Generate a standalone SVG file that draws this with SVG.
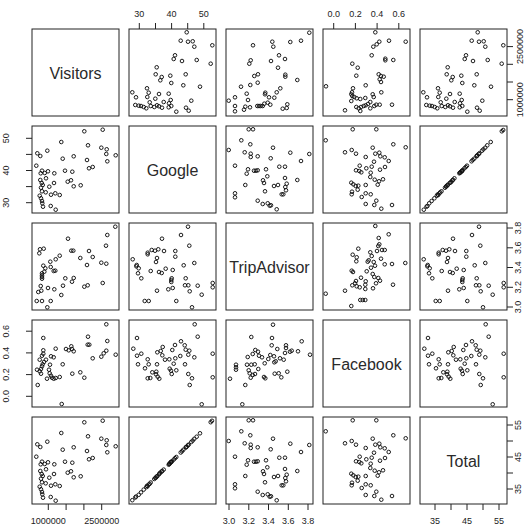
<svg xmlns="http://www.w3.org/2000/svg" xmlns:xlink="http://www.w3.org/1999/xlink" width="526" height="526" viewBox="0 0 526 526">
<style>
.bg{fill:#fff}
.fr{fill:none;stroke:#222;stroke-width:1}
.p circle{fill:none;stroke:#111;stroke-width:0.95}
.tk{fill:none;stroke:#222;stroke-width:1}
.lab{font-family:"Liberation Sans",Arial,sans-serif;font-size:16px;fill:#2a2a2a;text-anchor:middle}
.ax{font-family:"Liberation Sans",Arial,sans-serif;font-size:9px;fill:#222;text-anchor:middle}
</style>
<defs>
<g id="gVG" class="p">
<circle cx="57.7" cy="3.3" r="1.8"/><circle cx="51.7" cy="11.7" r="1.8"/><circle cx="59" cy="12.7" r="1.8"/><circle cx="63.7" cy="12.3" r="1.8"/><circle cx="65.3" cy="17.7" r="1.8"/><circle cx="83.3" cy="16.3" r="1.8"/><circle cx="46" cy="26.3" r="1.8"/><circle cx="44.7" cy="30" r="1.8"/><circle cx="53" cy="32" r="1.8"/><circle cx="67.7" cy="31" r="1.8"/><circle cx="81.7" cy="34.7" r="1.8"/><circle cx="27.7" cy="38.3" r="1.8"/><circle cx="26.7" cy="45.3" r="1.8"/><circle cx="32.7" cy="48" r="1.8"/><circle cx="31.3" cy="51.3" r="1.8"/><circle cx="41.3" cy="46.7" r="1.8"/><circle cx="42.3" cy="54" r="1.8"/><circle cx="56.7" cy="45.3" r="1.8"/><circle cx="54.3" cy="56.3" r="1.8"/><circle cx="71" cy="57.7" r="1.8"/><circle cx="3.3" cy="63.3" r="1.8"/><circle cx="7" cy="68.3" r="1.8"/><circle cx="18" cy="59.3" r="1.8"/><circle cx="19.7" cy="63.7" r="1.8"/><circle cx="18.3" cy="68" r="1.8"/><circle cx="30" cy="65" r="1.8"/><circle cx="26.3" cy="69.7" r="1.8"/><circle cx="39.7" cy="64.7" r="1.8"/><circle cx="41.7" cy="71" r="1.8"/><circle cx="40" cy="74.3" r="1.8"/><circle cx="6.3" cy="76" r="1.8"/><circle cx="9.7" cy="76.7" r="1.8"/><circle cx="12" cy="77" r="1.8"/><circle cx="14.7" cy="78" r="1.8"/><circle cx="17.3" cy="79.3" r="1.8"/><circle cx="21.7" cy="77" r="1.8"/><circle cx="25.3" cy="78" r="1.8"/><circle cx="28" cy="76.3" r="1.8"/><circle cx="30" cy="77.3" r="1.8"/><circle cx="34.7" cy="73" r="1.8"/><circle cx="33" cy="78.7" r="1.8"/><circle cx="42.3" cy="77" r="1.8"/><circle cx="39.7" cy="78.3" r="1.8"/><circle cx="47.3" cy="82.7" r="1.8"/><circle cx="57" cy="78.7" r="1.8"/><circle cx="59.7" cy="81.7" r="1.8"/><circle cx="62.3" cy="71.7" r="1.8"/><circle cx="20.7" cy="73.3" r="1.8"/>
</g>
<g id="gVT" class="p">
<circle cx="83.3" cy="3.7" r="1.8"/><circle cx="75" cy="11.7" r="1.8"/><circle cx="64.3" cy="13" r="1.8"/><circle cx="46.3" cy="12.7" r="1.8"/><circle cx="47.3" cy="17.7" r="1.8"/><circle cx="27" cy="16.3" r="1.8"/><circle cx="24.7" cy="31.3" r="1.8"/><circle cx="23.3" cy="34.7" r="1.8"/><circle cx="45" cy="32" r="1.8"/><circle cx="53" cy="26.3" r="1.8"/><circle cx="59" cy="30" r="1.8"/><circle cx="52" cy="38.7" r="1.8"/><circle cx="59.3" cy="45.7" r="1.8"/><circle cx="59.3" cy="47.7" r="1.8"/><circle cx="71.3" cy="51" r="1.8"/><circle cx="32" cy="45.3" r="1.8"/><circle cx="28.3" cy="47" r="1.8"/><circle cx="31.7" cy="53.7" r="1.8"/><circle cx="24.3" cy="56" r="1.8"/><circle cx="15" cy="57.7" r="1.8"/><circle cx="39.3" cy="63.7" r="1.8"/><circle cx="39" cy="65.3" r="1.8"/><circle cx="50.7" cy="63.3" r="1.8"/><circle cx="54.3" cy="59.3" r="1.8"/><circle cx="48.3" cy="68.7" r="1.8"/><circle cx="43" cy="68.3" r="1.8"/><circle cx="2.7" cy="71.7" r="1.8"/><circle cx="9" cy="68.3" r="1.8"/><circle cx="20.7" cy="64.7" r="1.8"/><circle cx="22" cy="71" r="1.8"/><circle cx="19.3" cy="77.7" r="1.8"/><circle cx="18" cy="80.7" r="1.8"/><circle cx="9" cy="77" r="1.8"/><circle cx="9" cy="82.3" r="1.8"/><circle cx="24" cy="78.3" r="1.8"/><circle cx="31.3" cy="77" r="1.8"/><circle cx="33" cy="77" r="1.8"/><circle cx="34.7" cy="77" r="1.8"/><circle cx="36.7" cy="77" r="1.8"/><circle cx="38.3" cy="74.7" r="1.8"/><circle cx="41.7" cy="73.7" r="1.8"/><circle cx="44.3" cy="75.7" r="1.8"/><circle cx="56.7" cy="79.7" r="1.8"/><circle cx="60.7" cy="79" r="1.8"/><circle cx="61.3" cy="75.3" r="1.8"/>
</g>
<g id="gVF" class="p">
<circle cx="52.3" cy="3.3" r="1.8"/><circle cx="56.3" cy="12.7" r="1.8"/><circle cx="53.7" cy="15.3" r="1.8"/><circle cx="50.3" cy="17.7" r="1.8"/><circle cx="66" cy="11.7" r="1.8"/><circle cx="82.7" cy="12.7" r="1.8"/><circle cx="48.7" cy="26.3" r="1.8"/><circle cx="62.3" cy="29.7" r="1.8"/><circle cx="62.3" cy="31.3" r="1.8"/><circle cx="70.3" cy="31" r="1.8"/><circle cx="29.3" cy="34.7" r="1.8"/><circle cx="34.7" cy="38.7" r="1.8"/><circle cx="33.3" cy="46.7" r="1.8"/><circle cx="55.7" cy="45.3" r="1.8"/><circle cx="58" cy="47" r="1.8"/><circle cx="60.7" cy="47.7" r="1.8"/><circle cx="56.7" cy="50.3" r="1.8"/><circle cx="58" cy="53" r="1.8"/><circle cx="42.7" cy="56.3" r="1.8"/><circle cx="3" cy="57.3" r="1.8"/><circle cx="30" cy="59.3" r="1.8"/><circle cx="29" cy="63.3" r="1.8"/><circle cx="28.3" cy="65.3" r="1.8"/><circle cx="29.3" cy="67" r="1.8"/><circle cx="31.3" cy="68" r="1.8"/><circle cx="37.3" cy="70" r="1.8"/><circle cx="42.3" cy="69" r="1.8"/><circle cx="49.7" cy="65.3" r="1.8"/><circle cx="50.7" cy="68" r="1.8"/><circle cx="58.3" cy="63.3" r="1.8"/><circle cx="28.3" cy="72" r="1.8"/><circle cx="33.7" cy="69.3" r="1.8"/><circle cx="33.3" cy="78" r="1.8"/><circle cx="35.7" cy="79.3" r="1.8"/><circle cx="38" cy="78" r="1.8"/><circle cx="40.7" cy="77" r="1.8"/><circle cx="42.7" cy="76.3" r="1.8"/><circle cx="45" cy="75" r="1.8"/><circle cx="47.3" cy="73" r="1.8"/><circle cx="51.3" cy="77" r="1.8"/><circle cx="53.3" cy="75.7" r="1.8"/><circle cx="56.7" cy="75.7" r="1.8"/><circle cx="69" cy="75.7" r="1.8"/><circle cx="22" cy="81.3" r="1.8"/><circle cx="37.3" cy="82" r="1.8"/><circle cx="47.3" cy="79.3" r="1.8"/>
</g>
<g id="gGT" class="p">
<circle cx="22.7" cy="3.3" r="1.8"/><circle cx="27" cy="3.3" r="1.8"/><circle cx="15.3" cy="14.3" r="1.8"/><circle cx="24.3" cy="18.3" r="1.8"/><circle cx="2.7" cy="24" r="1.8"/><circle cx="47" cy="21.7" r="1.8"/><circle cx="18.7" cy="26.3" r="1.8"/><circle cx="24.7" cy="27.7" r="1.8"/><circle cx="24.7" cy="31" r="1.8"/><circle cx="31.7" cy="30.3" r="1.8"/><circle cx="44.7" cy="32.3" r="1.8"/><circle cx="64.3" cy="26.7" r="1.8"/><circle cx="83.3" cy="28" r="1.8"/><circle cx="75" cy="35" r="1.8"/><circle cx="9" cy="39.7" r="1.8"/><circle cx="22" cy="43.3" r="1.8"/><circle cx="20.7" cy="47.7" r="1.8"/><circle cx="28" cy="44.7" r="1.8"/><circle cx="30" cy="44.7" r="1.8"/><circle cx="31.7" cy="44.3" r="1.8"/><circle cx="40" cy="43.3" r="1.8"/><circle cx="53.3" cy="40.7" r="1.8"/><circle cx="59" cy="40.7" r="1.8"/><circle cx="41.3" cy="50.3" r="1.8"/><circle cx="37" cy="54.3" r="1.8"/><circle cx="38" cy="57" r="1.8"/><circle cx="48" cy="60" r="1.8"/><circle cx="52" cy="59" r="1.8"/><circle cx="59" cy="52" r="1.8"/><circle cx="60.7" cy="57.7" r="1.8"/><circle cx="59.3" cy="61" r="1.8"/><circle cx="60" cy="64.3" r="1.8"/><circle cx="71.3" cy="54" r="1.8"/><circle cx="19.3" cy="59" r="1.8"/><circle cx="39" cy="65.3" r="1.8"/><circle cx="9" cy="67.3" r="1.8"/><circle cx="9" cy="71.3" r="1.8"/><circle cx="55.7" cy="68.3" r="1.8"/><circle cx="57.3" cy="68.3" r="1.8"/><circle cx="31.7" cy="74.7" r="1.8"/><circle cx="36.7" cy="78" r="1.8"/><circle cx="41.7" cy="77.3" r="1.8"/><circle cx="43.7" cy="79.7" r="1.8"/><circle cx="45" cy="79.3" r="1.8"/><circle cx="50.7" cy="83.3" r="1.8"/>
</g>
<g id="gGF" class="p">
<circle cx="29.7" cy="3.3" r="1.8"/><circle cx="53.3" cy="3.3" r="1.8"/><circle cx="2.7" cy="14.3" r="1.8"/><circle cx="70.3" cy="18.3" r="1.8"/><circle cx="82.7" cy="21.3" r="1.8"/><circle cx="22" cy="26.3" r="1.8"/><circle cx="28.7" cy="24" r="1.8"/><circle cx="33" cy="27.7" r="1.8"/><circle cx="42.7" cy="31" r="1.8"/><circle cx="49.7" cy="21.7" r="1.8"/><circle cx="52.3" cy="27.7" r="1.8"/><circle cx="56.3" cy="26.7" r="1.8"/><circle cx="57.3" cy="30.3" r="1.8"/><circle cx="61.7" cy="31.3" r="1.8"/><circle cx="65.7" cy="35" r="1.8"/><circle cx="51" cy="35.7" r="1.8"/><circle cx="36.7" cy="39.7" r="1.8"/><circle cx="33" cy="44.3" r="1.8"/><circle cx="36.3" cy="45" r="1.8"/><circle cx="38.3" cy="46.3" r="1.8"/><circle cx="43.3" cy="42.3" r="1.8"/><circle cx="48.7" cy="40.7" r="1.8"/><circle cx="47.7" cy="46.7" r="1.8"/><circle cx="47.3" cy="51" r="1.8"/><circle cx="57" cy="43.7" r="1.8"/><circle cx="62" cy="41" r="1.8"/><circle cx="51.7" cy="53.7" r="1.8"/><circle cx="60" cy="53.3" r="1.8"/><circle cx="56" cy="55.3" r="1.8"/><circle cx="54.7" cy="58.7" r="1.8"/><circle cx="28.3" cy="56.7" r="1.8"/><circle cx="30.3" cy="58.3" r="1.8"/><circle cx="32.7" cy="60" r="1.8"/><circle cx="35.3" cy="59.7" r="1.8"/><circle cx="34.7" cy="63.7" r="1.8"/><circle cx="42.7" cy="59" r="1.8"/><circle cx="29" cy="65.7" r="1.8"/><circle cx="28.7" cy="68.3" r="1.8"/><circle cx="38.7" cy="71" r="1.8"/><circle cx="42.7" cy="67.3" r="1.8"/><circle cx="47.7" cy="68.3" r="1.8"/><circle cx="53.3" cy="74.7" r="1.8"/><circle cx="51.3" cy="79" r="1.8"/><circle cx="42.7" cy="78" r="1.8"/><circle cx="58.3" cy="82.7" r="1.8"/><circle cx="69" cy="79" r="1.8"/>
</g>
<g id="gTF" class="p">
<circle cx="52.3" cy="3" r="1.8"/><circle cx="55.7" cy="15" r="1.8"/><circle cx="65.7" cy="11.3" r="1.8"/><circle cx="55.3" cy="23" r="1.8"/><circle cx="56.3" cy="21.3" r="1.8"/><circle cx="59" cy="27" r="1.8"/><circle cx="61.7" cy="27" r="1.8"/><circle cx="54" cy="28" r="1.8"/><circle cx="35.3" cy="25.7" r="1.8"/><circle cx="47.3" cy="29.3" r="1.8"/><circle cx="48.7" cy="33" r="1.8"/><circle cx="58" cy="35.7" r="1.8"/><circle cx="29.7" cy="31.7" r="1.8"/><circle cx="33.7" cy="34.3" r="1.8"/><circle cx="33.3" cy="38.3" r="1.8"/><circle cx="61.7" cy="41.3" r="1.8"/><circle cx="69" cy="41" r="1.8"/><circle cx="82.3" cy="40" r="1.8"/><circle cx="50.7" cy="39" r="1.8"/><circle cx="52" cy="42.7" r="1.8"/><circle cx="45.7" cy="37.3" r="1.8"/><circle cx="44.7" cy="38.7" r="1.8"/><circle cx="48" cy="44.7" r="1.8"/><circle cx="28.7" cy="47.7" r="1.8"/><circle cx="30" cy="49" r="1.8"/><circle cx="43.7" cy="48.3" r="1.8"/><circle cx="49.7" cy="51" r="1.8"/><circle cx="51.3" cy="54" r="1.8"/><circle cx="55.3" cy="55" r="1.8"/><circle cx="57" cy="57.7" r="1.8"/><circle cx="38" cy="54.7" r="1.8"/><circle cx="33" cy="58" r="1.8"/><circle cx="32" cy="60.3" r="1.8"/><circle cx="29.3" cy="62.3" r="1.8"/><circle cx="33.7" cy="63.3" r="1.8"/><circle cx="36.7" cy="64.3" r="1.8"/><circle cx="42.3" cy="61.7" r="1.8"/><circle cx="42.3" cy="66" r="1.8"/><circle cx="50" cy="65.3" r="1.8"/><circle cx="53" cy="60.3" r="1.8"/><circle cx="70" cy="61.7" r="1.8"/><circle cx="22" cy="67.7" r="1.8"/><circle cx="2.7" cy="70.7" r="1.8"/><circle cx="37.3" cy="77" r="1.8"/><circle cx="39.7" cy="77" r="1.8"/><circle cx="42.3" cy="77" r="1.8"/><circle cx="28.3" cy="83" r="1.8"/><circle cx="42.7" cy="58.3" r="1.8"/>
</g>
<g id="gGTot" class="p">
<circle cx="3.3" cy="83.2" r="1.8"/><circle cx="6.3" cy="80.5" r="1.8"/><circle cx="7" cy="79.6" r="1.8"/><circle cx="9.7" cy="77.8" r="1.8"/><circle cx="12" cy="75.4" r="1.8"/><circle cx="14.7" cy="72.6" r="1.8"/><circle cx="17.3" cy="70.2" r="1.8"/><circle cx="18" cy="68.8" r="1.8"/><circle cx="18.6" cy="69.3" r="1.8"/><circle cx="19.7" cy="67.6" r="1.8"/><circle cx="20.7" cy="66.8" r="1.8"/><circle cx="21.7" cy="65.5" r="1.8"/><circle cx="25.3" cy="62" r="1.8"/><circle cx="26.3" cy="60.9" r="1.8"/><circle cx="26.9" cy="60.6" r="1.8"/><circle cx="27.7" cy="59.5" r="1.8"/><circle cx="28.3" cy="59.2" r="1.8"/><circle cx="30" cy="57.3" r="1.8"/><circle cx="30.5" cy="56.5" r="1.8"/><circle cx="31.3" cy="55.6" r="1.8"/><circle cx="32.7" cy="54.5" r="1.8"/><circle cx="33.2" cy="54" r="1.8"/><circle cx="34.7" cy="52.6" r="1.8"/><circle cx="39.7" cy="47.7" r="1.8"/><circle cx="40.2" cy="46.9" r="1.8"/><circle cx="40.8" cy="46.6" r="1.8"/><circle cx="41.3" cy="45.7" r="1.8"/><circle cx="41.9" cy="45.1" r="1.8"/><circle cx="42.3" cy="44.8" r="1.8"/><circle cx="42.9" cy="44.4" r="1.8"/><circle cx="44.7" cy="42.6" r="1.8"/><circle cx="46" cy="41.2" r="1.8"/><circle cx="47.3" cy="40" r="1.8"/><circle cx="51.7" cy="35.5" r="1.8"/><circle cx="53" cy="34.3" r="1.8"/><circle cx="54.3" cy="32.8" r="1.8"/><circle cx="56.7" cy="30.4" r="1.8"/><circle cx="57.2" cy="30.2" r="1.8"/><circle cx="57.7" cy="29.6" r="1.8"/><circle cx="59" cy="28.3" r="1.8"/><circle cx="59.7" cy="27.6" r="1.8"/><circle cx="62.3" cy="25" r="1.8"/><circle cx="63.7" cy="23.6" r="1.8"/><circle cx="65.3" cy="21.8" r="1.8"/><circle cx="67.7" cy="19.7" r="1.8"/><circle cx="71" cy="16.3" r="1.8"/><circle cx="81.7" cy="5.2" r="1.8"/><circle cx="83" cy="3.8" r="1.8"/>
</g>
</defs>
<rect class="bg" x="0" y="0" width="526" height="526"/>

<g id="frames">
<rect class="fr" x="32" y="29" width="87" height="87"/><rect class="fr" x="129" y="29" width="87" height="87"/><rect class="fr" x="226" y="29" width="87" height="87"/><rect class="fr" x="323" y="29" width="87" height="87"/><rect class="fr" x="420" y="29" width="87" height="87"/>
<rect class="fr" x="32" y="126" width="87" height="87"/><rect class="fr" x="129" y="126" width="87" height="87"/><rect class="fr" x="226" y="126" width="87" height="87"/><rect class="fr" x="323" y="126" width="87" height="87"/><rect class="fr" x="420" y="126" width="87" height="87"/>
<rect class="fr" x="32" y="223" width="87" height="87"/><rect class="fr" x="129" y="223" width="87" height="87"/><rect class="fr" x="226" y="223" width="87" height="87"/><rect class="fr" x="323" y="223" width="87" height="87"/><rect class="fr" x="420" y="223" width="87" height="87"/>
<rect class="fr" x="32" y="320" width="87" height="87"/><rect class="fr" x="129" y="320" width="87" height="87"/><rect class="fr" x="226" y="320" width="87" height="87"/><rect class="fr" x="323" y="320" width="87" height="87"/><rect class="fr" x="420" y="320" width="87" height="87"/>
<rect class="fr" x="32" y="417" width="87" height="87"/><rect class="fr" x="129" y="417" width="87" height="87"/><rect class="fr" x="226" y="417" width="87" height="87"/><rect class="fr" x="323" y="417" width="87" height="87"/><rect class="fr" x="420" y="417" width="87" height="87"/>
</g>

<g id="labels">
<text class="lab" x="75.5" y="78.5">Visitors</text>
<text class="lab" x="172.5" y="175.5">Google</text>
<text class="lab" x="269.5" y="272.5">TripAdvisor</text>
<text class="lab" x="366.5" y="369.5">Facebook</text>
<text class="lab" x="463.5" y="467">Total</text>
</g>

<g id="points">
<use xlink:href="#gVG" transform="translate(129,29)"/>
<use xlink:href="#gVT" transform="translate(226,29)"/>
<use xlink:href="#gVF" transform="translate(323,29)"/>
<use xlink:href="#gVG" transform="translate(420,29)"/>

<use xlink:href="#gVG" transform="matrix(0,-1,-1,0,119,213)"/>
<use xlink:href="#gGT" transform="translate(226,126)"/>
<use xlink:href="#gGF" transform="translate(323,126)"/>
<use xlink:href="#gGTot" transform="matrix(0,-1,-1,0,507,213)"/>

<use xlink:href="#gVT" transform="matrix(0,-1,-1,0,119,310)"/>
<use xlink:href="#gGT" transform="matrix(0,-1,-1,0,216,310)"/>
<use xlink:href="#gTF" transform="translate(323,223)"/>
<use xlink:href="#gGT" transform="matrix(0,-1,-1,0,507,310)"/>

<use xlink:href="#gVF" transform="matrix(0,-1,-1,0,119,407)"/>
<use xlink:href="#gGF" transform="matrix(0,-1,-1,0,216,407)"/>
<use xlink:href="#gTF" transform="matrix(0,-1,-1,0,313,407)"/>
<use xlink:href="#gGF" transform="matrix(0,-1,-1,0,507,407)"/>

<use xlink:href="#gVG" transform="matrix(0,-1,-1,0,119,504)"/>
<use xlink:href="#gGTot" transform="translate(129,417)"/>
<use xlink:href="#gGT" transform="translate(226,417)"/>
<use xlink:href="#gGF" transform="translate(323,417)"/>
</g>

<g id="axes">
<path class="tk" d="M139.3 29V23M155.5 29V23M171.6 29V23M187.7 29V23M203.8 29V23"/>
<text class="ax" x="139.3" y="17">30</text><text class="ax" x="171.6" y="17">40</text><text class="ax" x="203.8" y="17">50</text>
<path class="tk" d="M333.7 29V23M355.4 29V23M377.1 29V23M398.8 29V23"/>
<text class="ax" x="333.7" y="17">0.0</text><text class="ax" x="355.4" y="17">0.2</text><text class="ax" x="377.1" y="17">0.4</text><text class="ax" x="398.8" y="17">0.6</text>

<path class="tk" d="M32 202.7H26M32 186.6H26M32 170.5H26M32 154.4H26M32 138.3H26"/>
<text class="ax" transform="translate(8.5,202.7) rotate(-90)">30</text><text class="ax" transform="translate(8.5,170.5) rotate(-90)">40</text><text class="ax" transform="translate(8.5,138.3) rotate(-90)">50</text>
<path class="tk" d="M32 396.3H26M32 374.6H26M32 352.9H26M32 331.2H26"/>
<text class="ax" transform="translate(8.5,396.3) rotate(-90)">0.0</text><text class="ax" transform="translate(8.5,374.6) rotate(-90)">0.2</text><text class="ax" transform="translate(8.5,352.9) rotate(-90)">0.4</text><text class="ax" transform="translate(8.5,331.2) rotate(-90)">0.6</text>

<path class="tk" d="M507 99.7H513M507 82H513M507 64.3H513M507 46.6H513"/>
<text class="ax" transform="translate(522.5,99.7) rotate(-90)">1000000</text><text class="ax" transform="translate(522.5,46.6) rotate(-90)">2500000</text>
<path class="tk" d="M507 307H513M507 287.3H513M507 267.5H513M507 247.8H513M507 228H513"/>
<text class="ax" transform="translate(521,307) rotate(-90)">3.0</text><text class="ax" transform="translate(521,287.3) rotate(-90)">3.2</text><text class="ax" transform="translate(521,267.5) rotate(-90)">3.4</text><text class="ax" transform="translate(521,247.8) rotate(-90)">3.6</text><text class="ax" transform="translate(521,228) rotate(-90)">3.8</text>
<path class="tk" d="M507 489H513M507 473H513M507 457H513M507 441H513M507 425H513"/>
<text class="ax" transform="translate(521,489) rotate(-90)">35</text><text class="ax" transform="translate(521,457) rotate(-90)">45</text><text class="ax" transform="translate(521,425) rotate(-90)">55</text>

<path class="tk" d="M48.3 504V510M66.1 504V510M83.9 504V510M101.7 504V510"/>
<text class="ax" x="48.3" y="524">1000000</text><text class="ax" x="101.7" y="524">2500000</text>
<path class="tk" d="M229 504V510M248.8 504V510M268.5 504V510M288.3 504V510M308 504V510"/>
<text class="ax" x="229" y="524">3.0</text><text class="ax" x="248.8" y="524">3.2</text><text class="ax" x="268.5" y="524">3.4</text><text class="ax" x="288.3" y="524">3.6</text><text class="ax" x="308" y="524">3.8</text>
<path class="tk" d="M435 504V510M451 504V510M467 504V510M483 504V510M499 504V510"/>
<text class="ax" x="435" y="524">35</text><text class="ax" x="467" y="524">45</text><text class="ax" x="499" y="524">55</text>
</g>
</svg>
